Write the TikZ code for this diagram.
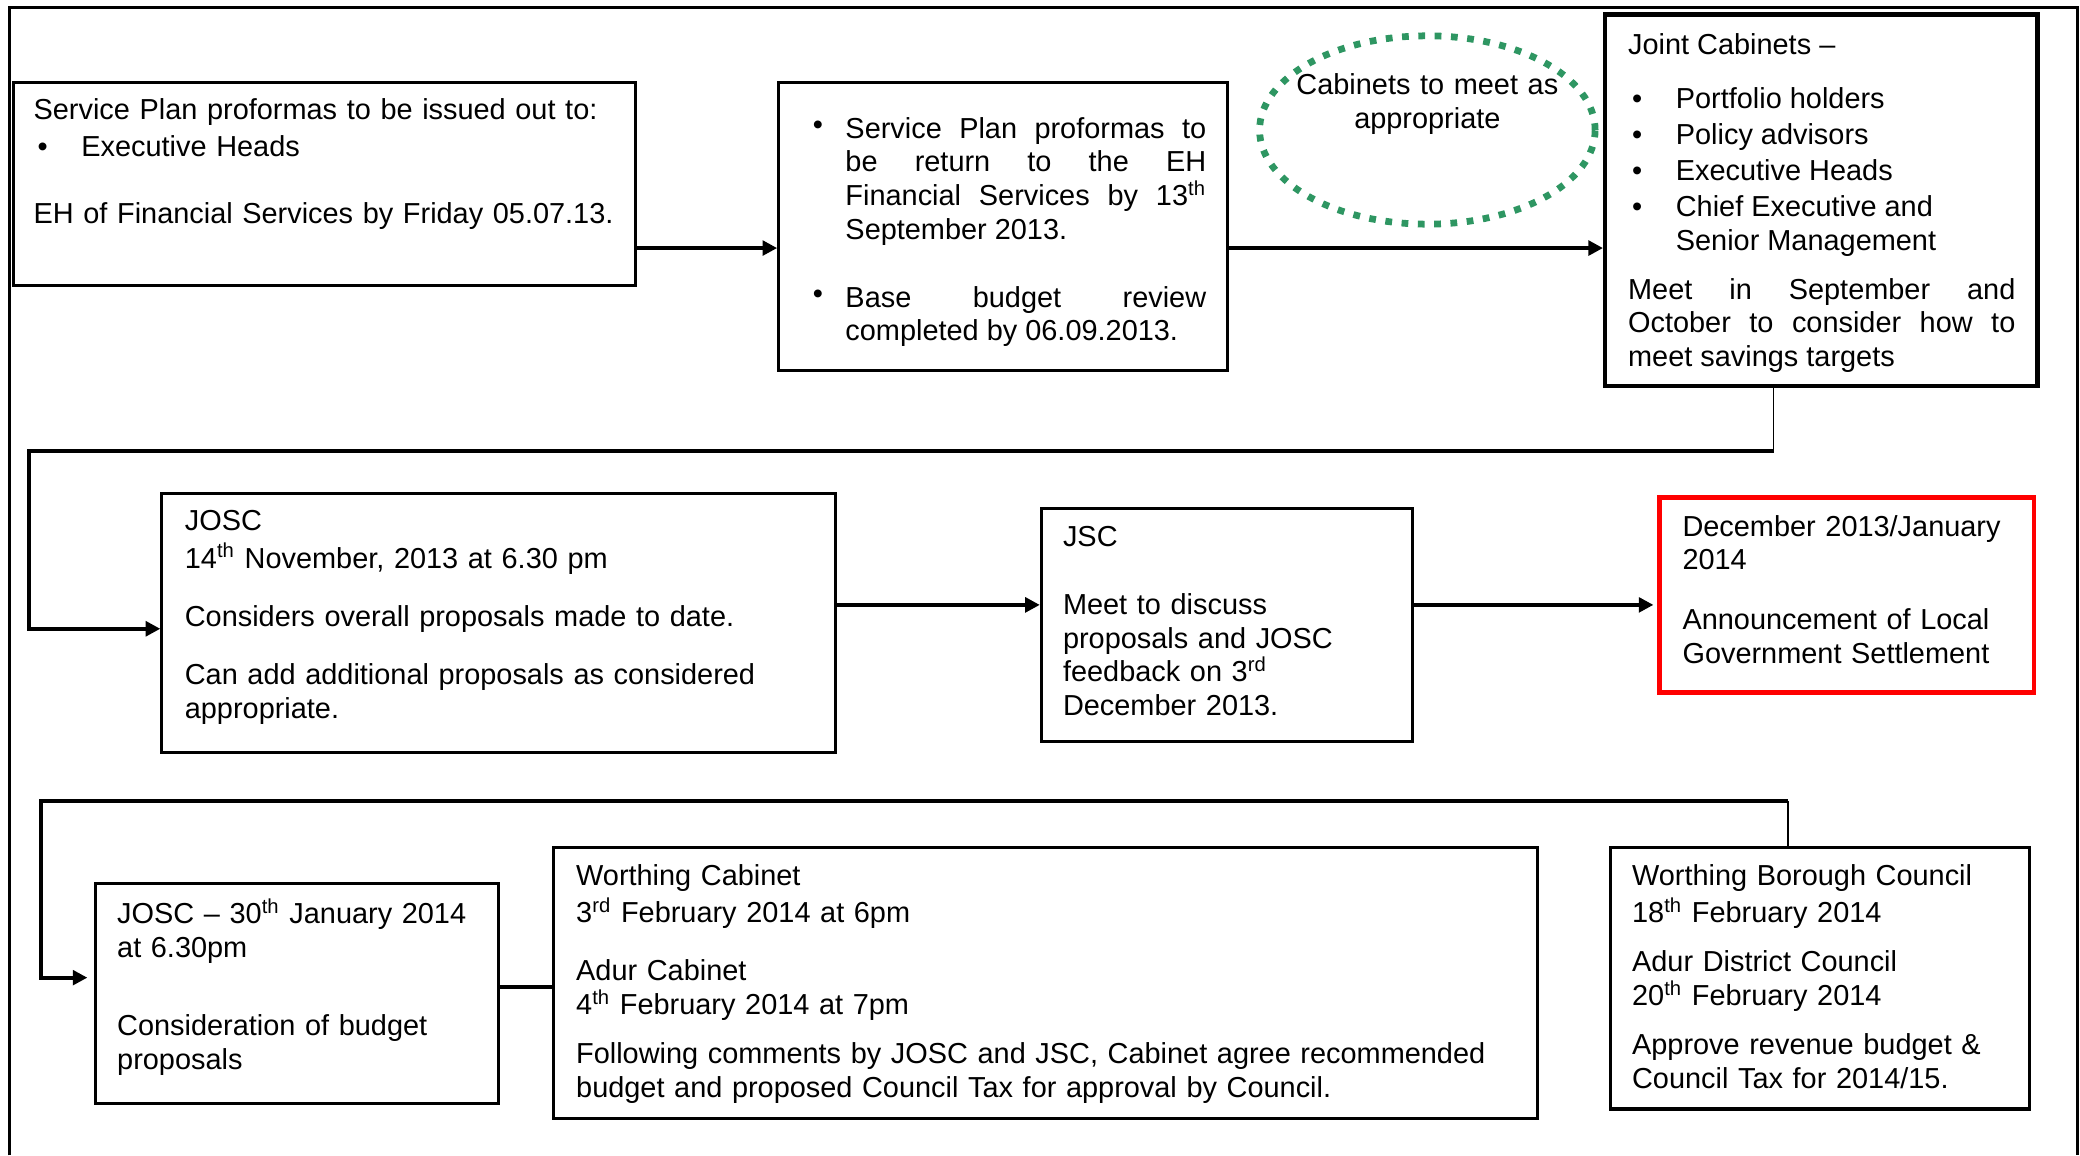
\documentclass[tikz,border=0pt]{standalone}
\usepackage{fontspec}
\setmainfont{Liberation Sans}
\usetikzlibrary{positioning,fit,arrows.meta,shapes.geometric}
\definecolor{meetgreen}{RGB}{46,150,98}
\tikzset{
  stage/.style={draw, line width=1.3pt, inner sep=0pt},
  note/.style={anchor=north west, inner sep=0pt, align=left,
    font=\fontsize{12.4}{14.5}\selectfont, execute at begin node=\strut},
  flow/.style={line width=1.7pt, -{Triangle[length=0.22cm,width=0.22cm]}},
  link/.style={line width=1.7pt},
  tie/.style={line width=0.6pt},
}
\newcommand{\dotitem}{\makebox[0.72cm][l]{\hspace{0.06cm}\textbullet}}
\newcommand{\smalldot}{\llap{\raisebox{0.12em}{\textbullet}\hspace{0.34cm}}}

\begin{document}
\begin{tikzpicture}[x=0.02cm, y=-0.02cm]
    \useasboundingbox (0,0) rectangle (1568,871);
    % outer frame, open at the foot
    \draw[line width=1.3pt] (7,871) -- (7,5.5) -- (1566,5.5) -- (1566,871);

    % first row
    \node[stage, fit={(10,62) (479,215)}] (issue) {};
    \node[stage, fit={(587,62) (925,279)}] (return) {};
    \node[ellipse, draw=meetgreen, line width=2.9pt, dash pattern=on 2.9pt off 4.1pt,
        minimum width=5.06cm, minimum height=2.84cm] (meet) at (1076,98) {};
    \node[stage, line width=1.8pt, fit={(1210,11) (1536,291)}] (joint) {};

    \node[note, text width=9cm] (issuetxt) at (25,72)
        {Service Plan proformas to be issued out to:\\[0.05cm]
        \dotitem Executive Heads\\[0.49cm]
        EH of Financial Services by Friday 05.07.13.};
    \node[note, align=justify, text width=5.44cm] (returntxt) at (637,86)
        {\smalldot Service Plan proformas to\linebreak be return to the EH\linebreak
        Financial Services by 13\textsuperscript{th}\linebreak September 2013.\\[0.51cm]
        \smalldot Base budget review\linebreak completed by 06.09.2013.};
    \node[note, align=center, anchor=north, text width=4.6cm] (meettxt) at (1076,53)
        {Cabinets to meet as\\appropriate};
    \node[note, align=justify, text width=5.84cm] (jointtxt) at (1227,23)
        {Joint Cabinets –\\[0.31cm]
        \dotitem Portfolio holders\\[0.03cm]
        \dotitem Policy advisors\\[0.03cm]
        \dotitem Executive Heads\\[0.03cm]
        \dotitem Chief Executive and\\
        \hspace*{0.72cm}Senior Management\\[0.23cm]
        Meet in September and\linebreak October to consider how to\linebreak
        meet savings targets};

    % second row
    \node[stage, fit={(122,372) (630,567)}] (josc) {};
    \node[stage, fit={(785,383) (1065,559)}] (jsc) {};
    \node[stage, draw=red, line width=1.8pt, fit={(1251,375) (1533,522)}] (settle) {};

    \node[note, text width=9.6cm] (josctxt) at (139,382)
        {JOSC\\
        14\textsuperscript{th} November, 2013 at 6.30 pm\\[0.37cm]
        Considers overall proposals made to date.\\[0.37cm]
        Can add additional proposals as considered\\
        appropriate.};
    \node[note, text width=5.2cm] (jsctxt) at (801,394)
        {JSC\\[0.51cm]
        Meet to discuss\\ proposals and JOSC\\ feedback on 3\textsuperscript{rd}\\
        December 2013.};
    \node[note, text width=5.3cm] (settletxt) at (1268,386)
        {December 2013/January\\ 2014\\[0.39cm]
        Announcement of Local\\ Government Settlement};

    % third row
    \node[stage, fit={(72,666) (376,832)}] (review) {};
    \node[stage, fit={(417,639) (1159,843)}] (cabinet) {};
    \node[stage, fit={(1214,639) (1530,836)}] (council) {};

    \node[note, text width=5.7cm] (reviewtxt) at (88,677)
        {JOSC – 30\textsuperscript{th} January 2014\\ at 6.30pm\\[0.67cm]
        Consideration of budget\\ proposals};
    \node[note, text width=14.3cm] (cabinettxt) at (434,649)
        {Worthing Cabinet\\ 3\textsuperscript{rd} February 2014 at 6pm\\[0.37cm]
        Adur Cabinet\\ 4\textsuperscript{th} February 2014 at 7pm\\[0.23cm]
        Following comments by JOSC and JSC, Cabinet agree recommended\\
        budget and proposed Council Tax for approval by Council.};
    \node[note, text width=5.9cm] (counciltxt) at (1230,649)
        {Worthing Borough Council\\ 18\textsuperscript{th} February 2014\\[0.23cm]
        Adur District Council\\ 20\textsuperscript{th} February 2014\\[0.23cm]
        Approve revenue budget \&\\ Council Tax for 2014/15.};

    % connectors
    \coordinate (row1) at (0,187);
    \coordinate (row2) at (0,456);
    \coordinate (row3) at (0,744);
    \coordinate (drop1) at (1337,340);
    \coordinate (back1) at (22,340);
    \coordinate (drop2) at (1348,604);
    \coordinate (back2) at (31,604);

    \draw
        (issue.east |- row1) edge [flow] (return.west |- row1)
        (return.east |- row1) edge [flow] (joint.west |- row1)
        (josc.east |- row2) edge [flow] (jsc.west |- row2)
        (jsc.east |- row2) edge [flow, shorten >=0.06cm] (settle.west |- row2)
        (review.east |- row3) edge [link] (cabinet.west |- row3)
        ;
    \draw[tie] (drop1 |- joint.south) -- (drop1);
    \draw[flow] (drop1) -- (back1) |- ([yshift=-0.09cm]josc.west);
    \draw[tie] (drop2 |- council.north) -- (drop2);
    \draw[flow, shorten >=0.1cm] (drop2) -- (back2) |- ([yshift=0.24cm]review.west);
\end{tikzpicture}
\end{document}
